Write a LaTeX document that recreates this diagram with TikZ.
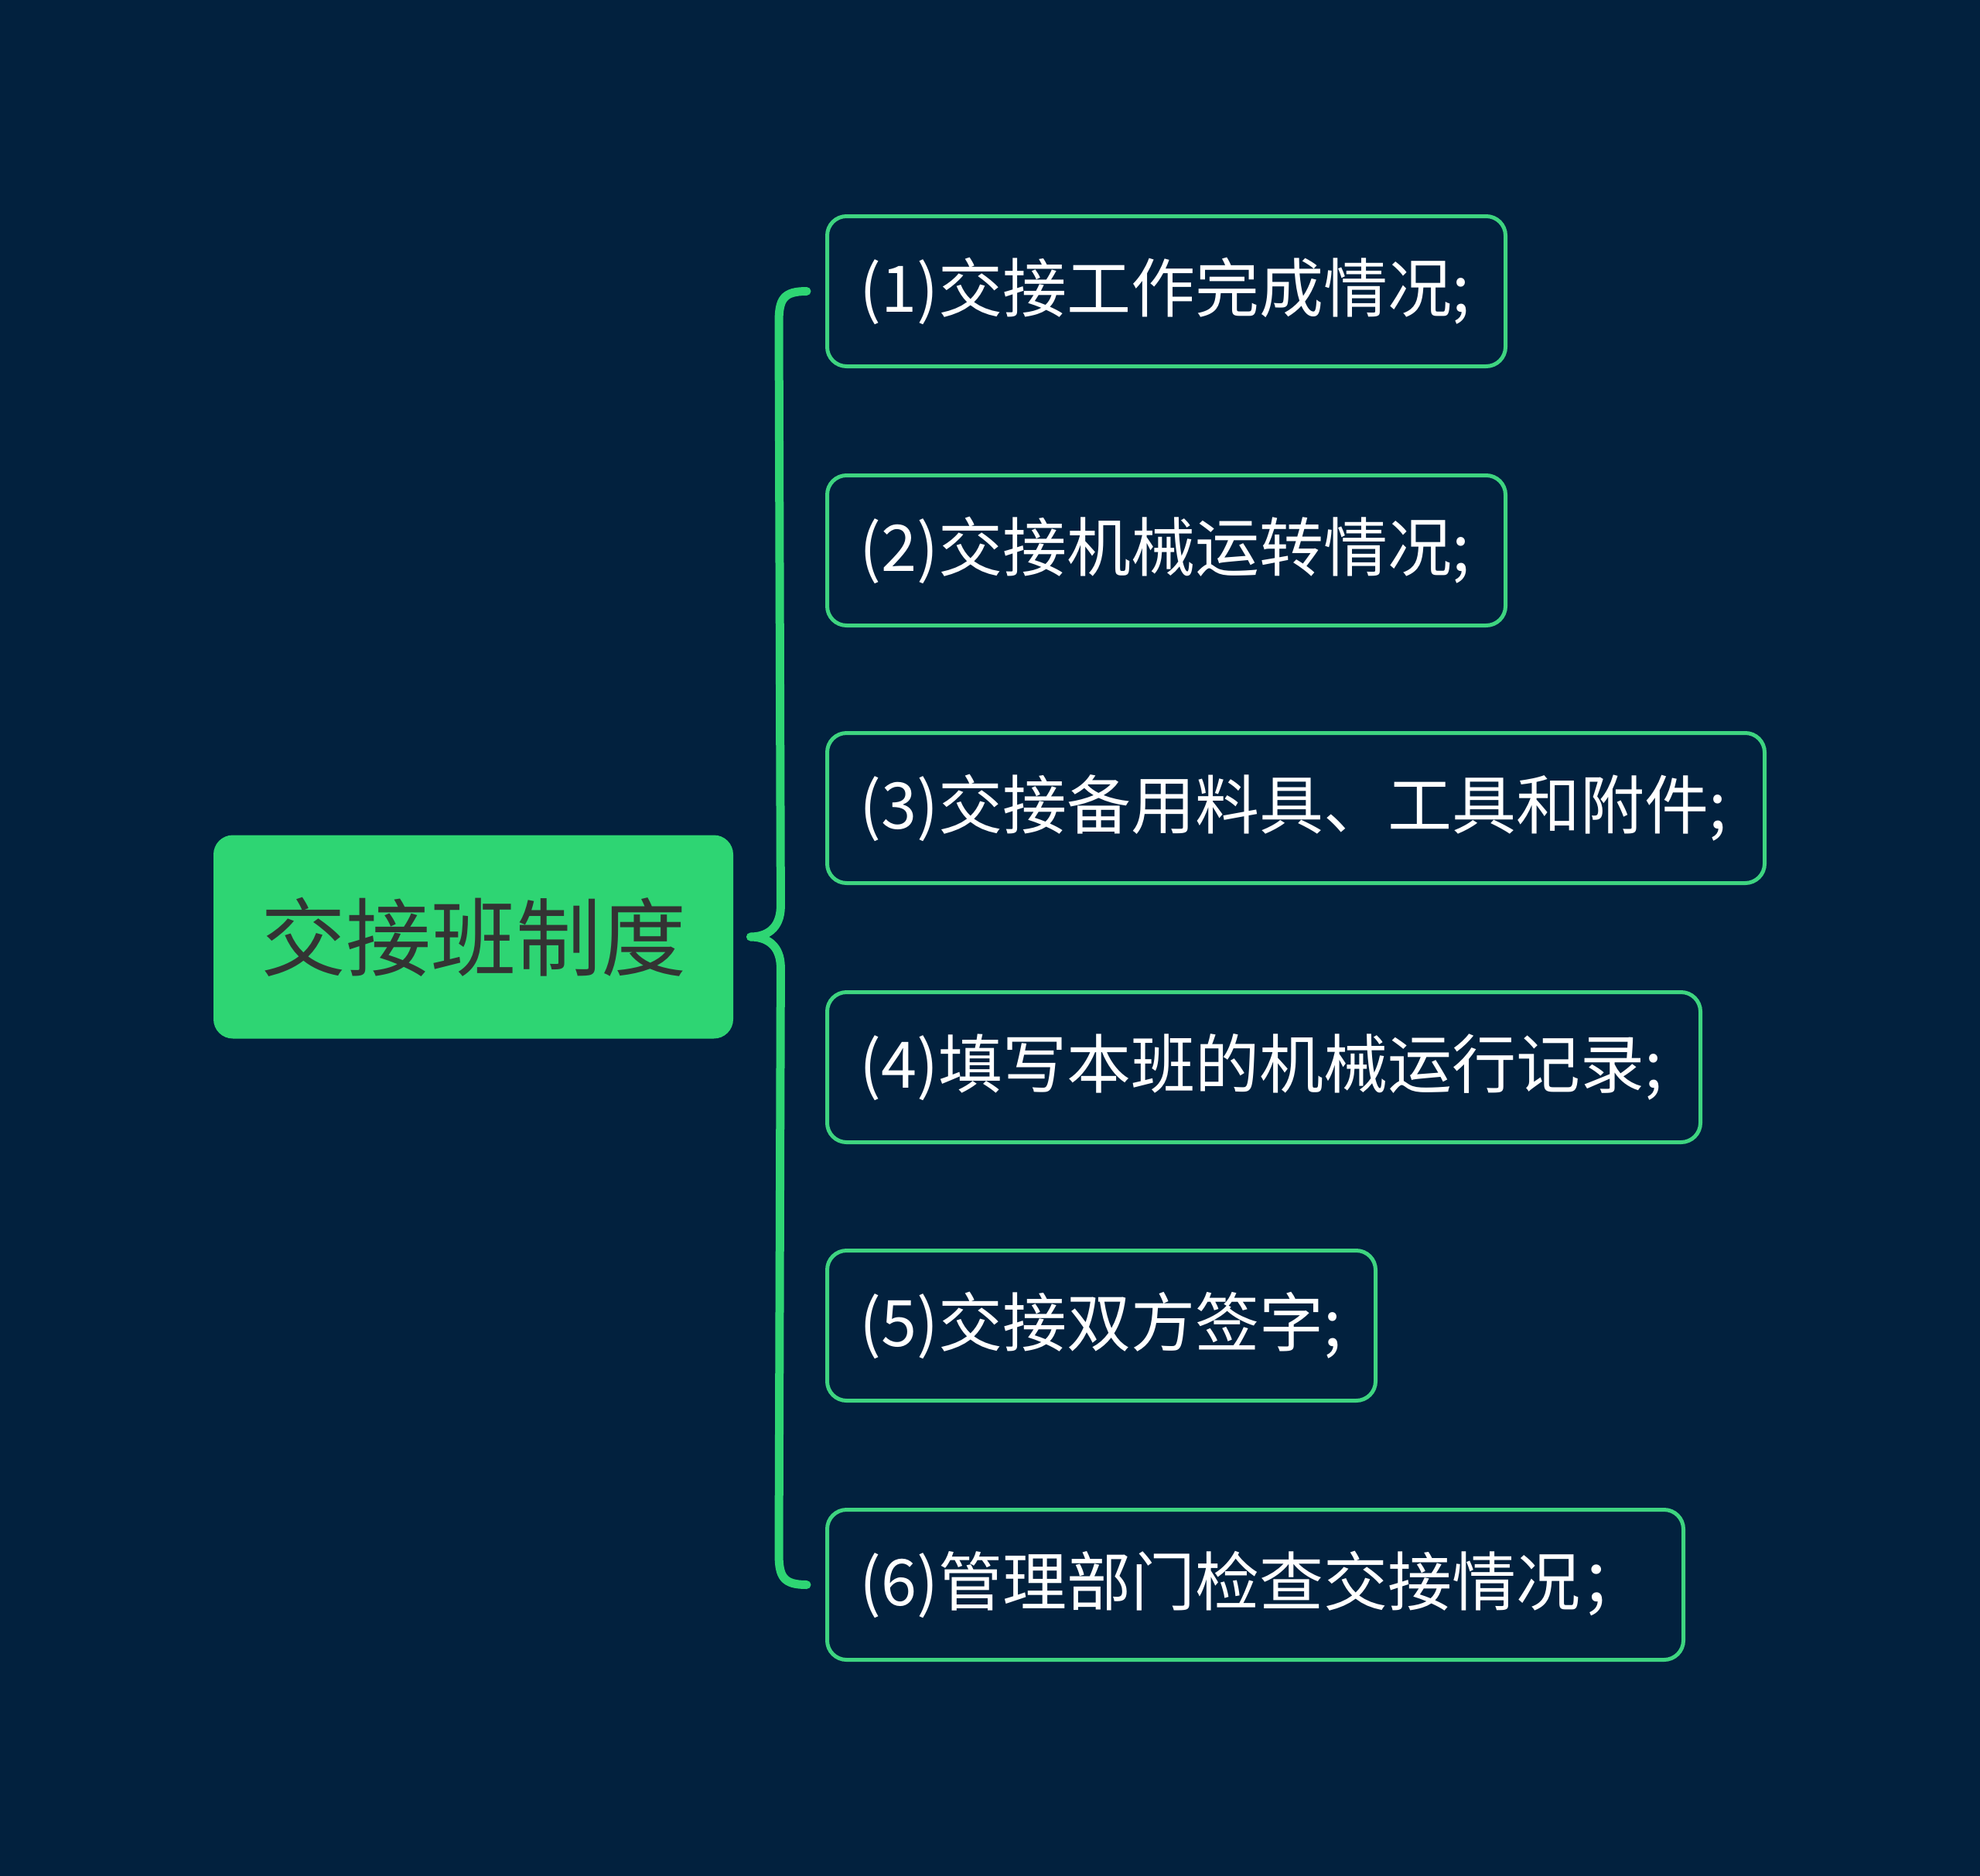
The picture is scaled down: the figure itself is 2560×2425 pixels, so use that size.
\documentclass[tikz,border=0pt]{standalone}
\usepackage{fontspec}
\setmainfont{Noto Sans CJK SC}
\usetikzlibrary{calc}
\definecolor{bg}{RGB}{2,33,62}
\definecolor{gr}{RGB}{46,213,115}
\definecolor{grl}{RGB}{62,212,128}
\definecolor{dark}{RGB}{51,51,51}
\begin{document}
\begin{tikzpicture}[x=0.5pt,y=-0.5pt,
  rootbox/.style={fill=gr, rounded corners=12.5pt, minimum width=336pt, minimum height=131.5pt,
    inner sep=0pt, text=dark, font=\fontsize{55}{62}\selectfont},
  itembox/.style={draw=grl, line width=2.5pt, fill=bg, rounded corners=12.5pt,
    minimum height=97pt, anchor=north west, align=left, inner xsep=21pt, inner ysep=0pt,
    text=white, font=\fontsize{41.5}{48}\selectfont},
  brace/.style={draw=gr, line width=5.5pt, line cap=round, line join=round}]
\fill[bg] (0,0) rectangle (2560,2425);
\useasboundingbox (0,0) rectangle (2560,2425);
\node[rootbox] (root) at (612,1211) {交接班制度};
\node[itembox, text width={(877-84)*0.5pt}]  (c1) at (1067,277)  {(1)交接工作完成情况;};
\node[itembox, text width={(877-84)*0.5pt}]  (c2) at (1067,612)  {(2)交接机械运转情况;};
\node[itembox, text width={(1212-84)*0.5pt}] (c3) at (1067,945)  {(3)交接备用料具、工具和附件;};
\node[itembox, text width={(1129-84)*0.5pt}] (c4) at (1067,1280) {(4)填写本班的机械运行记录;};
\node[itembox, text width={(709-84)*0.5pt}]  (c5) at (1067,1614) {(5)交接双方签字;};
\node[itembox, text width={(1107-84)*0.5pt}] (c6) at (1067,1949) {(6)管理部门检查交接情况；};
\coordinate (tip) at ($(root.east)+(22,0)$);
\coordinate (top) at ($(c1.west)+(-24,0)$);
\coordinate (bot) at ($(c6.west)+(-24,0)$);
\draw[brace] (top) .. controls ($(top)+(-30,0)$) and ($(top)+(-36,10)$) .. ($(top)+(-36,40)$)
  -- ($(tip)+(39,-40)$) .. controls ($(tip)+(39,-10)$) and ($(tip)+(20,0)$) .. (tip)
  .. controls ($(tip)+(20,0)$) and ($(tip)+(39,10)$) .. ($(tip)+(39,40)$)
  -- ($(bot)+(-36,-40)$) .. controls ($(bot)+(-36,-10)$) and ($(bot)+(-30,0)$) .. (bot);
\end{tikzpicture}
\end{document}
